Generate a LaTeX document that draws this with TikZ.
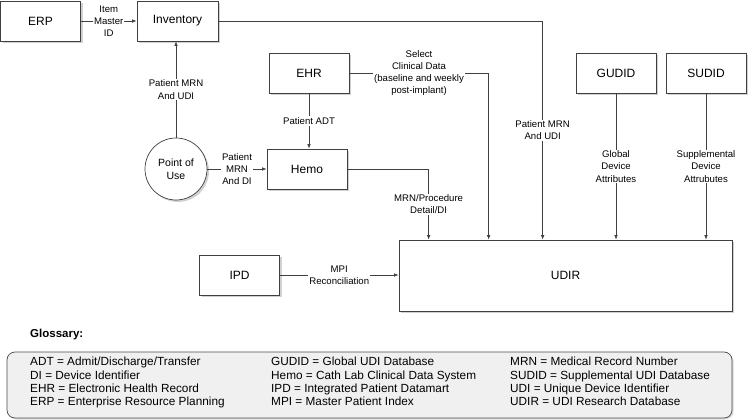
\documentclass[tikz,border=0pt]{standalone}
\usepackage{fontspec}
\setmainfont{Liberation Sans}
\usetikzlibrary{arrows.meta,shadows}

\begin{document}
\begin{tikzpicture}[x=1pt,y=-1pt,
    sys/.style={draw=black!75,fill=white,line width=0.7pt,
      minimum width=80pt,minimum height=40pt,
      font=\fontsize{12}{13.5}\selectfont,
      drop shadow={shadow xshift=2pt,shadow yshift=-2pt,fill=black!18,opacity=1}},
    flow/.style={draw=black!75,line width=0.6pt,-{Latex[length=4.5pt,width=3.5pt]}},
    lbl/.style={fill=white,inner sep=1pt,align=center,font=\fontsize{9.6}{12.3}\selectfont},
    gloss/.style={anchor=north west,align=left,inner sep=0pt,font=\fontsize{11.8}{13.3}\selectfont}]

  \useasboundingbox (0,0) rectangle (750,420);

  % Source systems, top row
  \node[sys] (erp) at (40.5,21) {ERP};
  \node[sys,minimum width=81pt] (inv) at (177.5,21) {Inventory};
  \node[sys] (ehr) at (309,73) {EHR};
  \node[sys] (gudid) at (616,73) {GUDID};
  \node[sys] (sudid) at (706,73) {SUDID};

  % Middle row
  \node[sys,circle,minimum size=62pt,inner sep=0pt,align=center,
    font=\fontsize{10.5}{12.5}\selectfont] (pou) at (176,169) {Point of\\Use};
  \node[sys] (hemo) at (307,169) {Hemo};

  % Bottom row
  \node[sys] (ipd) at (239.5,275) {IPD};
  \node[sys,minimum width=333pt,minimum height=71pt] (udir) at (565.5,275.5) {UDIR};

  % Flows
  \draw[flow] (erp) -- node[lbl] (lblerp) {Item\\Master\\ID} (inv);
  \draw[flow] (pou.north) -- node[lbl] (lblpou) {Patient MRN\\And UDI} (pou.north |- inv.south);
  \draw[flow] (pou) -- node[lbl] (lblhemo) {Patient\\MRN\\And DI} (hemo);
  \draw[flow] (ehr.south) -- node[lbl] (lbladt) {Patient ADT} (ehr.south |- hemo.north);
  \draw[flow] (ehr.east) -| node[lbl,pos=0.25] (lblehr) {Select\\Clinical Data\\(baseline and weekly\\post-implant)} ([xshift=90pt]udir.north west);
  \draw[flow] (inv.east) -| node[lbl,pos=0.75] (lblinv) {Patient MRN\\And UDI} ([xshift=144pt]udir.north west);
  \draw[flow] (hemo.east) -| node[lbl,pos=0.75] (lblproc) {MRN/Procedure\\Detail/DI} ([xshift=30pt]udir.north west);
  \draw[flow] (gudid.south) -- node[lbl] (lblgudid) {Global\\Device\\Attributes} (gudid.south |- udir.north);
  \draw[flow] (sudid.south) -- node[lbl] (lblsudid) {Supplemental\\Device\\Attrubutes} (sudid.south |- udir.north);
  \draw[flow] (ipd.east) -- node[lbl] (lblipd) {MPI\\Reconciliation} (ipd.east -| udir.west);

  % Glossary
  \node[anchor=west,inner sep=0pt,font=\bfseries\fontsize{11.5}{13}\selectfont] (glosstitle) at (30,335) {Glossary:};
  \node[draw=black!70,fill=black!6,rounded corners=8pt,line width=0.7pt,
    minimum width=725pt,minimum height=66pt,
    drop shadow={shadow xshift=1.5pt,shadow yshift=-1.5pt,fill=black!15,opacity=1}] (glossbox) at (369.5,385) {};
  \node[gloss] (glossa) at (30,357) {ADT = Admit/Discharge/Transfer\\DI = Device Identifier\\EHR = Electronic Health Record\\ERP = Enterprise Resource Planning};
  \node[gloss] (glossb) at (271,357) {GUDID = Global UDI Database\\Hemo = Cath Lab Clinical Data System\\IPD = Integrated Patient Datamart\\MPI = Master Patient Index};
  \node[gloss] (glossc) at (510,357) {MRN = Medical Record Number\\SUDID = Supplemental UDI Database\\UDI = Unique Device Identifier\\UDIR = UDI Research Database};

\end{tikzpicture}
\end{document}
